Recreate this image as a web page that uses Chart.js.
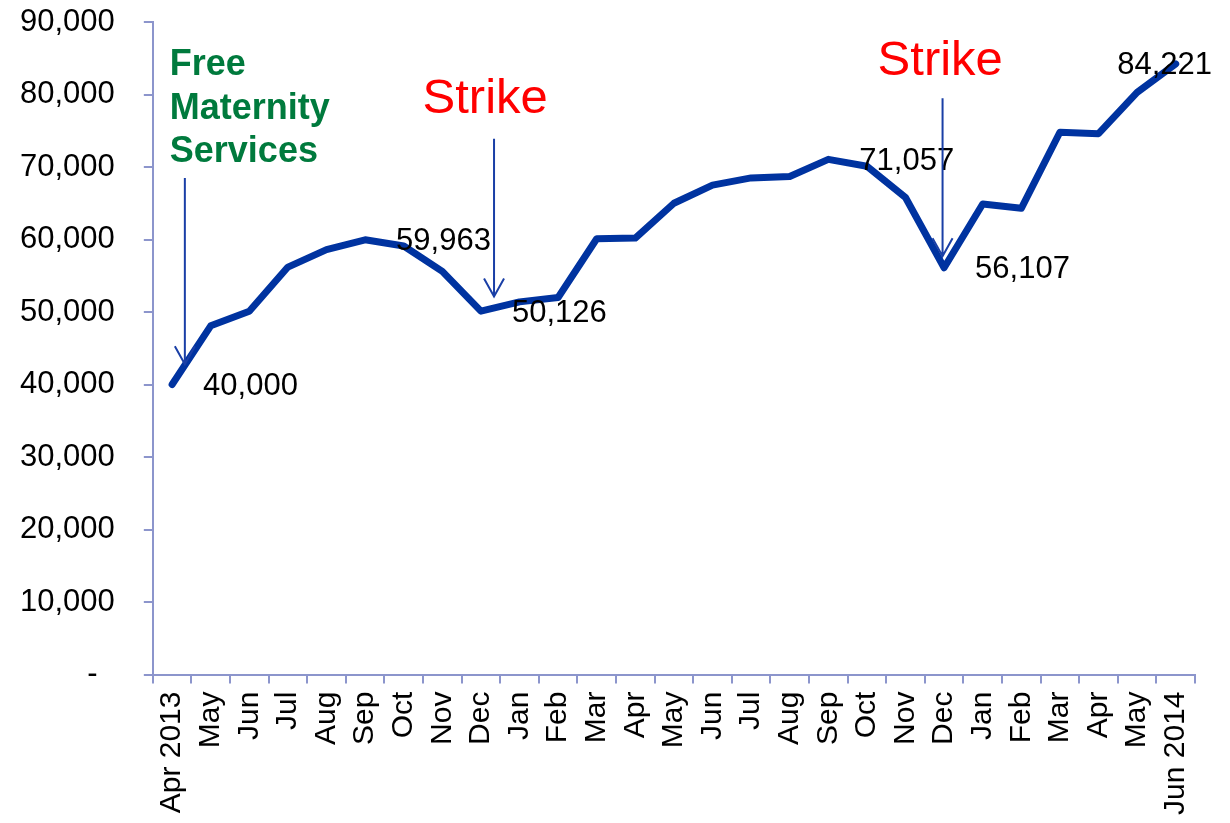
<!DOCTYPE html>
<html>
<head>
<meta charset="utf-8">
<script src="https://cdn.jsdelivr.net/npm/chart.js@4/dist/chart.umd.min.js"></script>
<style>
  html, body { margin: 0; padding: 0; background: #fff; }
  #wrap { width: 1230px; height: 823px; position: relative; }
</style>
</head>
<body>
<div id="wrap"><canvas id="myLineChart"></canvas></div>
<script>
// Monthly values, Apr 2013 .. "Jun 2014"
const months = [
  'Apr 2013', 'May', 'Jun', 'Jul', 'Aug', 'Sep', 'Oct', 'Nov', 'Dec',
  'Jan', 'Feb', 'Mar', 'Apr', 'May', 'Jun', 'Jul', 'Aug', 'Sep', 'Oct', 'Nov', 'Dec',
  'Jan', 'Feb', 'Mar', 'Apr', 'May', 'Jun 2014'
];
const values = [
  40000, 48100, 50100, 56200, 58600, 59963, 59100, 55600, 50126,
  51400, 52000, 60100, 60200, 65000, 67500, 68500, 68700, 71057, 70100, 65800, 56107,
  64900, 64300, 74800, 74600, 80300, 84221
];
const yTicks = [0, 10000, 20000, 30000, 40000, 50000, 60000, 70000, 80000, 90000];

// which points get a value label
const labeledPoints = [0, 5, 8, 17, 20, 26];

// arrows: category position, start value, tip value
const arrowAt = [0.33, 8.34, 19.96];
const arrowFrom = [68500, 73900, 79500];
const arrowTo = [42800, 52150, 57700];

// callout texts
const noteText = [['Free', 'Maternity', 'Services'], ['Strike'], ['Strike']];
const noteAt = [-0.06, 8.11, 19.9];
const noteValue = [84000, 79300, 84500];

const axisColor = '#8c95cc';
const lineColor = '#0033a0';
const fontFamily = '"Liberation Sans", Arial, sans-serif';

const annotate = {
  id: 'annotate',
  afterDatasetsDraw(chart) {
    const ctx = chart.ctx;
    const xs = chart.scales.x;
    const ys = chart.scales.y;
    const meta = chart.getDatasetMeta(0);
    ctx.save();

    // value labels
    ctx.font = '31px ' + fontFamily;
    ctx.fillStyle = '#000';
    ctx.textBaseline = 'middle';
    ctx.textAlign = 'left';
    labeledPoints.forEach(i => {
      const p = meta.data[i];
      const txt = values[i].toLocaleString('en-US');
      const w = ctx.measureText(txt).width;
      const lx = Math.min(p.x + 31, chart.width - w - 18);
      ctx.fillText(txt, lx, p.y + 2);
    });

    // arrows
    ctx.strokeStyle = '#1a3fa6';
    ctx.lineWidth = 2;
    arrowAt.forEach((a, i) => {
      const x = xs.getPixelForValue(a);
      const y0 = ys.getPixelForValue(arrowFrom[i]);
      const y1 = ys.getPixelForValue(arrowTo[i]);
      ctx.beginPath();
      ctx.moveTo(x, y0);
      ctx.lineTo(x, y1);
      ctx.moveTo(x - 10, y1 - 18);
      ctx.lineTo(x, y1);
      ctx.lineTo(x + 10, y1 - 18);
      ctx.stroke();
    });

    // callouts
    ctx.textBaseline = 'middle';
    noteText.forEach((lines, i) => {
      const x = xs.getPixelForValue(noteAt[i]);
      const y = ys.getPixelForValue(noteValue[i]);
      if (lines.length > 1) {
        ctx.font = 'bold 36px ' + fontFamily;
        ctx.fillStyle = '#007a3d';
        ctx.textAlign = 'left';
        lines.forEach((t, j) => ctx.fillText(t, x, y + j * 43.5));
      } else {
        ctx.font = '49px ' + fontFamily;
        ctx.fillStyle = '#ff0000';
        ctx.textAlign = 'center';
        ctx.fillText(lines[0], x, y);
      }
    });
    ctx.restore();
  }
};

const lineData = {
  labels: months,
  datasets: [{
    data: values,
    borderColor: lineColor,
    borderWidth: 7,
    pointRadius: 0,
    pointHoverRadius: 0,
    tension: 0,
    fill: false,
    borderJoinStyle: 'round',
    borderCapStyle: 'round'
  }]
};

const configLine = {
  type: 'line',
  data: lineData,
  options: {
    responsive: true,
    maintainAspectRatio: false,
    animation: false,
    layout: { padding: { left: -9, top: 22, right: 35, bottom: 0 } },
    plugins: {
      legend: { display: false },
      tooltip: { enabled: false }
    },
    scales: {
      x: {
        offset: true,
        grid: {
          offset: true,
          drawOnChartArea: false,
          color: axisColor,
          lineWidth: 2,
          tickLength: 9
        },
        border: { color: axisColor, width: 2 },
        ticks: {
          autoSkip: false,
          maxRotation: 90,
          minRotation: 90,
          padding: 8,
          color: '#000',
          font: { family: fontFamily, size: 30 }
        }
      },
      y: {
        min: 0,
        max: 90000,
        afterBuildTicks: axis => { axis.ticks = yTicks.map(v => ({ value: v })); },
        afterFit: axis => { axis.paddingTop = 0; axis.paddingBottom = 0; },
        grid: {
          drawOnChartArea: false,
          color: axisColor,
          lineWidth: 2,
          tickLength: 9
        },
        border: { color: axisColor, width: 2 },
        ticks: {
          padding: 29,
          color: '#000',
          font: { family: fontFamily, size: 31 },
          callback: v => v === 0 ? '-  ' : v.toLocaleString('en-US')
        }
      }
    }
  },
  plugins: [annotate]
};

var lineCanvas = document.getElementById('myLineChart');
let chart1 = new Chart(lineCanvas, configLine);
</script>
</body>
</html>
